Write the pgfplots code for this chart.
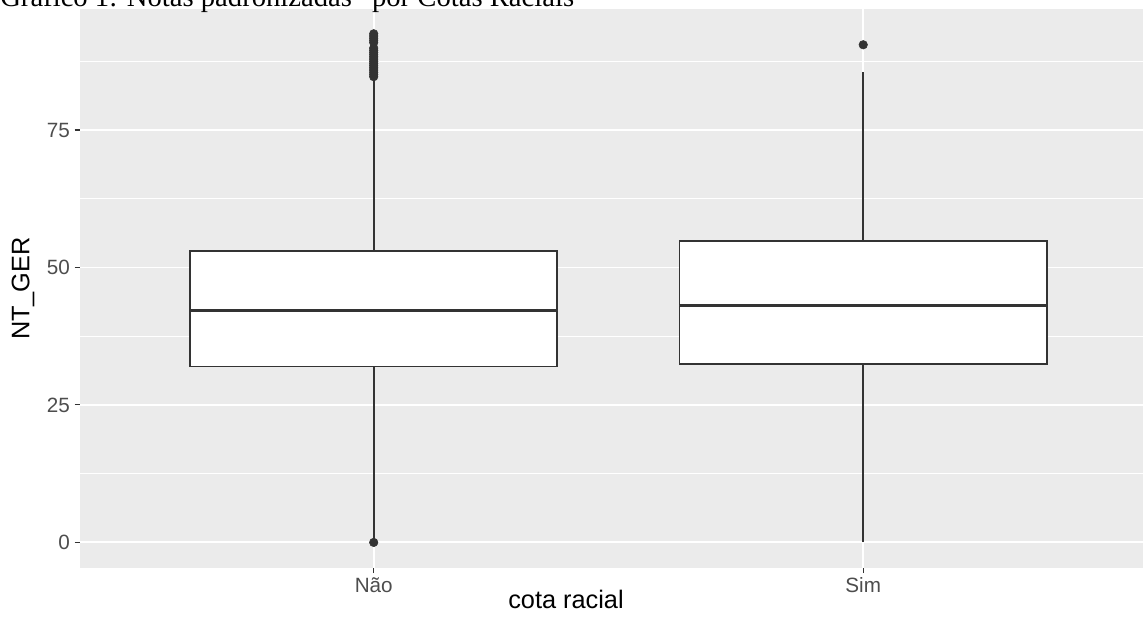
\documentclass[border=0pt]{standalone}
\usepackage{fontspec}
\setmainfont{Liberation Sans}
\newfontfamily\titlefont{Liberation Serif}
\usepackage{pgfplots}
\pgfplotsset{compat=1.18}
\usepgfplotslibrary{statistics}
\definecolor{panel}{HTML}{EBEBEB}
\definecolor{ink}{HTML}{333333}
\definecolor{ticktext}{HTML}{4D4D4D}

\begin{document}
\begin{tikzpicture}
\useasboundingbox (0,0) rectangle (857.25pt,472.5pt);
\begin{axis}[
  at={(60pt,46.7pt)}, anchor=south west,
  scale only axis, width=807.7pt, height=418.8pt,
  xmin=0.4, xmax=2.6, ymin=-4.6, ymax=96.95,
  axis background/.style={fill=panel},
  axis line style={draw=none},
  xtick={1,2}, xticklabels={Não,Sim},
  ytick={0,25,50,75},
  minor ytick={12.5,37.5,62.5,87.5},
  xtick pos=bottom, ytick pos=left,
  grid=both,
  major grid style={white, line width=1.4pt},
  minor grid style={white, line width=0.75pt},
  tick style={ink, line width=0.8pt},
  tick align=outside, major tick length=4pt, minor tick length=0pt,
  ticklabel style={font=\fontsize{15.5}{18}\selectfont, text=ticktext},
  /pgf/number format/assume math mode=true,
  boxplot/draw direction=y,
]
% Não
\addplot[ink, fill=white, line width=1.2pt, mark=*,
  mark options={fill=ink, draw=ink, line width=0.4pt, mark size=3.2pt},
  boxplot prepared={draw position=1, lower whisker=0.4, lower quartile=32.0,
    median=42.1, upper quartile=53.0, upper whisker=84.3,
    box extend=0.75, whisker extend=0,
    every median/.style={line width=2.2pt}}]
  table[row sep=\\, y index=0] {
  y\\ 0\\ 84.7\\ 85.1\\ 85.5\\ 85.9\\ 86.3\\ 86.7\\ 87.1\\ 87.5\\ 87.9\\
  88.3\\ 88.7\\ 89.1\\ 89.5\\ 89.9\\ 90.9\\ 91.3\\ 91.7\\ 92.1\\ 92.5\\
  };
% Sim
\addplot[ink, fill=white, line width=1.2pt, mark=*,
  mark options={fill=ink, draw=ink, line width=0.4pt, mark size=3.2pt},
  boxplot prepared={draw position=2, lower whisker=0, lower quartile=32.5,
    median=43.1, upper quartile=54.8, upper whisker=85.5,
    box extend=0.75, whisker extend=0,
    every median/.style={line width=2.2pt}}]
  table[row sep=\\, y index=0] {
  y\\ 90.5\\
  };
\end{axis}
\node[rotate=90, font=\fontsize{19}{22}\selectfont] at (17.25pt,256.1pt) {NT\_GER};
\node[anchor=base, font=\fontsize{19}{22}\selectfont] at (424.5pt,15.75pt) {cota racial};
\node[anchor=base west, inner sep=0pt, font=\titlefont\fontsize{21.5}{24}\selectfont]
  at (0pt,467.25pt) {Gráfico 1: Notas padronizadas ”por Cotas Raciais};
\end{tikzpicture}
\end{document}
